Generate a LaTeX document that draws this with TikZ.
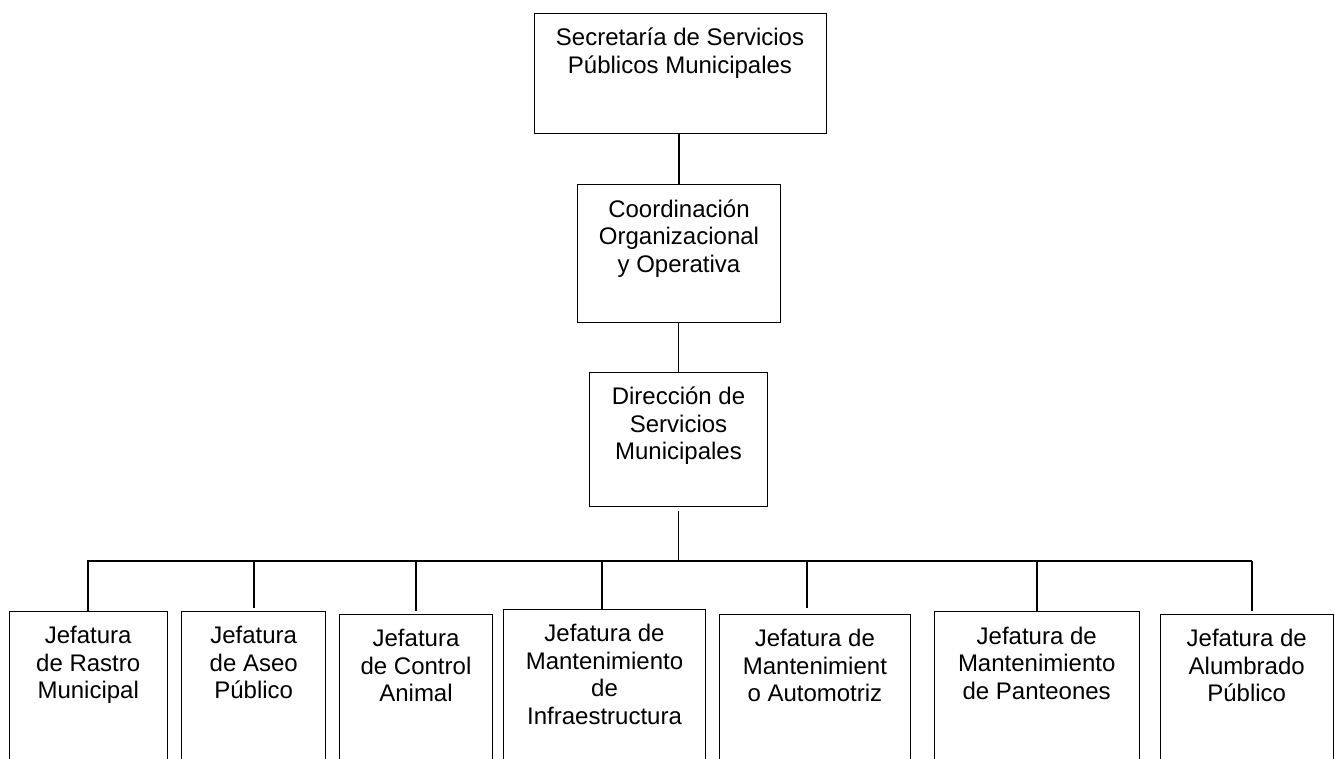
\documentclass[tikz,border=0pt]{standalone}
\usepackage{fontspec}
\setmainfont{Liberation Sans}
\usetikzlibrary{positioning}

\newcommand{\tstrut}{\rule{0pt}{33pt}}

\begin{document}
\begin{tikzpicture}[
    x=1pt, y=-1pt,
    unit/.style={rectangle, draw, line width=1pt, inner sep=0pt},
    txt/.style={anchor=north, inner sep=0pt, align=center, font=\fontsize{24}{27.5}\selectfont},
    link/.style={line width=1.8pt}
  ]
    \clip (0,0) rectangle (1335,758);

    % Upper levels
    \node[unit, minimum width=292pt, minimum height=120pt] (sec) at (680,73) {};
    \node[unit, minimum width=203.5pt, minimum height=137.5pt] (coord) at (679,253.3) {};
    \node[unit, minimum width=178pt, minimum height=134pt] (dir) at (678.5,439) {};

    \node[txt] (secT) at (sec.north) {\tstrut Secretaría de Servicios\\Públicos Municipales};
    \node[txt] (coordT) at (coord.north) {\tstrut Coordinación\\Organizacional\\y Operativa};
    \node[txt] (dirT) at (dir.north) {\tstrut Dirección de\\Servicios\\Municipales};

    % Jefaturas
    \node[unit, minimum width=158.3pt, minimum height=200pt] (rastro) at (88.2,711) {};
    \node[unit, minimum width=144pt, minimum height=200pt] (aseo) at (253.7,711) {};
    \node[unit, minimum width=153.4pt, minimum height=200pt] (control) at (416,714) {};
    \node[unit, minimum width=202.4pt, minimum height=200pt] (infra) at (604.5,709) {};
    \node[unit, minimum width=191.7pt, minimum height=200pt] (auto) at (814.9,714) {};
    \node[unit, minimum width=204.7pt, minimum height=200pt] (panteon) at (1036.7,711.3) {};
    \node[unit, minimum width=172.7pt, minimum height=200pt] (alumb) at (1246.7,714) {};

    \node[txt] (rastroT) at (rastro.north) {\tstrut Jefatura\\de Rastro\\Municipal};
    \node[txt] (aseoT) at (aseo.north) {\tstrut Jefatura\\de Aseo\\Público};
    \node[txt] (controlT) at (control.north) {\tstrut Jefatura\\de Control\\Animal};
    \node[txt] (infraT) at (infra.north) {\tstrut Jefatura de\\Mantenimiento\\de\\Infraestructura};
    \node[txt] (autoT) at (auto.north) {\tstrut Jefatura de\\Mantenimient\\o Automotriz};
    \node[txt] (panteonT) at (panteon.north) {\tstrut Jefatura de\\Mantenimiento\\de Panteones};
    \node[txt] (alumbT) at (alumb.north) {\tstrut Jefatura de\\Alumbrado\\Público};

    % Lines
    \coordinate (busL) at (87.3,561);
    \coordinate (busR) at (1251.7,561);
    \coordinate (hub) at (dir.south |- busL);

    \draw[link] (sec.south -| coord.north) -- (coord.north);
    \draw[link] (coord.south -| dir.north) -- (dir.north);
    \draw[link, shorten <=4.5pt] (dir.south) -- (hub);
    \draw[link] (busL) -- (busR);

    \draw[link] (rastro.north |- busL) -- (rastro.north);
    \draw[link, shorten >=3pt] (aseo.north |- busL) -- (aseo.north);
    \draw[link, shorten >=3pt] (control.north |- busL) -- (control.north);
    \draw[link] ([xshift=-2.2pt]infra.north |- busL) -- ([xshift=-2.2pt]infra.north);
    \draw[link, shorten >=6pt] ([xshift=-7.6pt]auto.north |- busL) -- ([xshift=-7.6pt]auto.north);
    \draw[link] (panteon.north |- busL) -- (panteon.north);
    \draw[link, shorten >=3pt] (busR) -- (busR |- alumb.north);
\end{tikzpicture}
\end{document}
